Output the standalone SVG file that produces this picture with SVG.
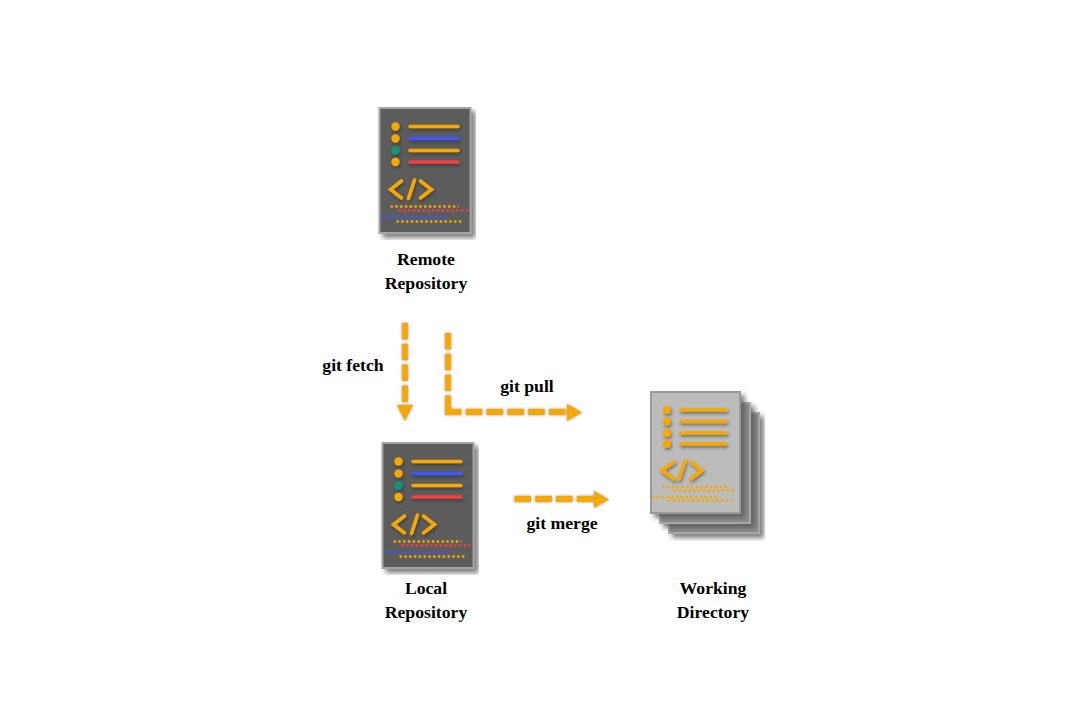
<svg xmlns="http://www.w3.org/2000/svg" width="1080" height="720" viewBox="0 0 1080 720">
<style>
.lbl{font-family:"Liberation Serif","Times New Roman",serif;font-weight:700;font-size:17.7px;fill:#000;text-anchor:middle}
.ln{stroke-width:3.5;stroke-linecap:round;fill:none}
.o{stroke:#f5a800}.b{stroke:#3f55f5}.r{stroke:#f53f3f}
.dt{stroke-width:2.4;stroke-dasharray:2.4 2.4;fill:none}
.code{fill:none;stroke:#f5a800;stroke-width:3.6;stroke-linecap:round;stroke-linejoin:miter}
.flow{fill:none;stroke:#f5a800;stroke-width:5.8;stroke-dasharray:16.500 4.300}
.head{fill:#f5a800}
.soft{filter:url(#soft)}
</style>
<defs>
<filter id="g" filterUnits="userSpaceOnUse" x="300" y="300" width="400" height="250"><feDropShadow dx="0" dy="0" stdDeviation="1.6" flood-color="#777" flood-opacity=".8"/></filter>
<filter id="soft" x="-5%" y="-5%" width="110%" height="110%"><feGaussianBlur stdDeviation=".45"/></filter>
<filter id="s" x="-20%" y="-20%" width="140%" height="140%"><feDropShadow dx="4" dy="4" stdDeviation="2.4" flood-color="#555" flood-opacity=".75"/></filter>
<filter id="t" x="-10%" y="-50%" width="120%" height="250%"><feDropShadow dx="1" dy="2" stdDeviation="1.4" flood-color="#222" flood-opacity=".5"/></filter>
<g id="doc" class="soft">
<rect x="0" y="0" width="91" height="125" fill="#5b5b5b" stroke="#a3a3a3" stroke-width="2" filter="url(#s)"/>
<g filter="url(#t)">
<circle cx="16" cy="18.500" r="4.200" fill="#f5a800"/><circle cx="16" cy="30.500" r="4.200" fill="#f5a800"/><circle cx="16" cy="42.500" r="4.200" fill="#0b9a78"/><circle cx="16" cy="54" r="4.200" fill="#f5a800"/>
<path class="ln o" d="M30.500 18.500H78.500"/><path class="ln b" d="M30.500 30.500H78.500"/><path class="ln o" d="M30.500 42.500H78.500"/><path class="ln r" d="M30.500 54H78.500"/>
<path class="code" d="M22 73L11 81.500L22 90M29 90.500L35 72M41 73L52 81.500L41 90"/>
</g>
<path class="dt o" d="M11 98.500H79"/><path class="dt r" d="M19 102.500H88"/><path class="dt b" d="M2 109.500H69"/><path class="dt o" d="M17 113.500H84"/>
</g>
</defs>
<g id="remote-repository"><use href="#doc" x="379.500" y="108"/><text class="lbl" x="426" y="265">Remote</text><text class="lbl" x="426" y="289">Repository</text></g>
<g id="local-repository"><use href="#doc" x="382.500" y="443"/><text class="lbl" x="426" y="594">Local</text><text class="lbl" x="426" y="618">Repository</text></g>
<g id="working-directory">
<g class="soft">
<rect x="669" y="413" width="90" height="120" fill="#8c8c8c" stroke="#a8a8a8" stroke-width="2" filter="url(#s)"/>
<rect x="660" y="403" width="90" height="120" fill="#8c8c8c" stroke="#a8a8a8" stroke-width="2" filter="url(#s)"/>
<rect x="651" y="392" width="89" height="121" fill="#bcbcbc" stroke="#9a9a9a" stroke-width="2" filter="url(#s)"/>
<g filter="url(#t)">
<circle cx="667" cy="410" r="4" fill="#f5a800"/><circle cx="667" cy="421.500" r="4" fill="#f5a800"/><circle cx="667" cy="433" r="4" fill="#f5a800"/><circle cx="667" cy="444" r="4" fill="#f5a800"/>
<path class="ln o" d="M681 410H726M681 421.500H726M681 433H726M681 444H726"/>
<path class="code" d="M674 462L662 470.500L674 479M679 479L685 461M691 462L702 470.500L691 479"/>
</g>
<path class="dt o" d="M662 487H727M674 490.500H735M652 497H718M668 500.500H732"/>
</g>
<text class="lbl" x="713" y="594">Working</text><text class="lbl" x="713" y="618">Directory</text>
</g>
<g id="connectors" filter="url(#g)">
<path class="flow" d="M405 323V406"/><path class="head" d="M397 405H413L405 421Z"/>
<path class="flow" d="M448 333V414"/><path class="flow" d="M445 412H568"/><path class="head" d="M567 404L582 412.500L567 421Z"/>
<path class="flow" d="M514.500 499H595"/><path class="head" d="M594 491L609 499.500L594 508Z"/>
</g>
<g id="connector-labels">
<text class="lbl" x="353" y="371">git fetch</text><text class="lbl" x="527" y="392">git pull</text><text class="lbl" x="562" y="529">git merge</text>
</g>
</svg>
